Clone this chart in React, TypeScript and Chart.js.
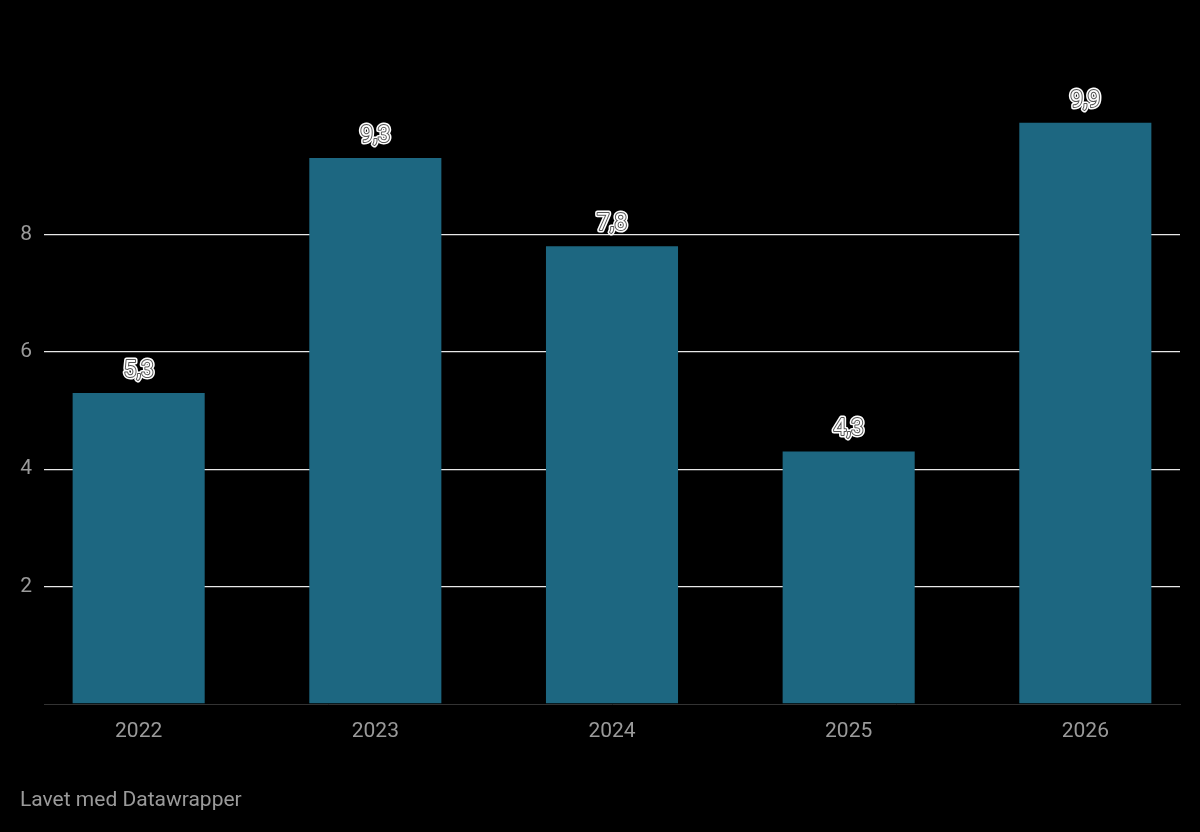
import React, { useEffect, useRef } from "react";
import { Chart, registerables } from "chart.js";

Chart.register(...registerables);

const years: string[] = ["2022", "2023", "2024", "2025", "2026"];
const values: number[] = [5.3, 9.3, 7.8, 4.3, 9.9];
const yTicks: number[] = [2, 4, 6, 8];
const footerText = "Lavet med Datawrapper";

const BAR = "#1d6781";
const GRID = "#e8e8e8";
const BASE = "#333333";
const MUTED = "#9a9a9a";

const valueLabels = {
  id: "valueLabels",
  afterDatasetsDraw(chart: any) {
    const ctx = chart.ctx;
    const meta = chart.getDatasetMeta(0);
    ctx.save();
    ctx.font = "400 23px Roboto";
    ctx.textAlign = "center";
    ctx.textBaseline = "middle";
    ctx.lineJoin = "round";
    meta.data.forEach((el: any, i: number) => {
      const txt = values[i].toFixed(1).replace(".", ",");
      const x = el.x;
      const y = el.y - 22;
      ctx.strokeStyle = "#ffffff";
      ctx.lineWidth = 5;
      ctx.strokeText(txt, x, y);
      ctx.strokeStyle = "#555555";
      ctx.lineWidth = 2;
      ctx.strokeText(txt, x, y);
      ctx.fillStyle = "#ffffff";
      ctx.fillText(txt, x, y);
    });
    ctx.restore();
  },
};

export default function App() {
  const ref = useRef<HTMLCanvasElement | null>(null);

  useEffect(() => {
    document.body.style.background = "#000";
    if (!ref.current) return;
    Chart.defaults.font.family = "Roboto";
    const chart = new Chart(ref.current, {
      type: "bar",
      data: {
        datasets: [
          {
            data: values.map((v, i) => ({ x: i, y: v })),
            backgroundColor: BAR,
            borderColor: BAR,
            borderWidth: 0,
            barPercentage: 0.558,
            categoryPercentage: 1,
          },
        ],
      },
      options: {
        animation: false,
        responsive: false,
        maintainAspectRatio: false,
        devicePixelRatio: 1,
        layout: { padding: { left: 0, right: 20, top: 117, bottom: 0 } },
        plugins: { legend: { display: false }, tooltip: { enabled: false } },
        scales: {
          x: {
            type: "linear",
            min: -0.4,
            max: 4.4,
            offset: false,
            grid: { display: false, drawTicks: false, offset: false },
            border: { display: true, color: BASE, width: 1 },
            ticks: {
              stepSize: 1,
              includeBounds: false,
              autoSkip: false,
              maxRotation: 0,
              padding: 15,
              color: MUTED,
              font: { size: 21, family: "Roboto" },
              callback: (v: any) => (Number.isInteger(v) ? years[v] ?? "" : ""),
            },
            afterFit: (s: any) => {
              s.height = 128;
            },
          },
          y: {
            min: 0,
            max: 10,
            grid: {
              drawTicks: false,
              color: (c: any) =>
                yTicks.includes(c.tick?.value) ? GRID : "rgba(0,0,0,0)",
              lineWidth: 1.3,
            },
            border: { display: false },
            ticks: {
              stepSize: 2,
              padding: 12,
              color: MUTED,
              font: { size: 21, family: "Roboto" },
              callback: (v: any) => (yTicks.includes(v) ? String(v) : ""),
            },
            afterFit: (s: any) => {
              s.width = 44;
            },
          },
        },
      },
      plugins: [valueLabels],
    });
    return () => chart.destroy();
  }, []);

  return (
    <div
      style={{
        position: "absolute",
        left: 0,
        top: 0,
        width: 1200,
        height: 832,
        background: "#000",
        overflow: "hidden",
      }}
    >
      <canvas ref={ref} width={1200} height={832} style={{ display: "block" }} />
      <div
        style={{
          position: "absolute",
          left: 20,
          top: 786,
          fontFamily: "Roboto",
          fontSize: 21,
          color: MUTED,
          lineHeight: "27px",
        }}
      >
        {footerText}
      </div>
    </div>
  );
}
